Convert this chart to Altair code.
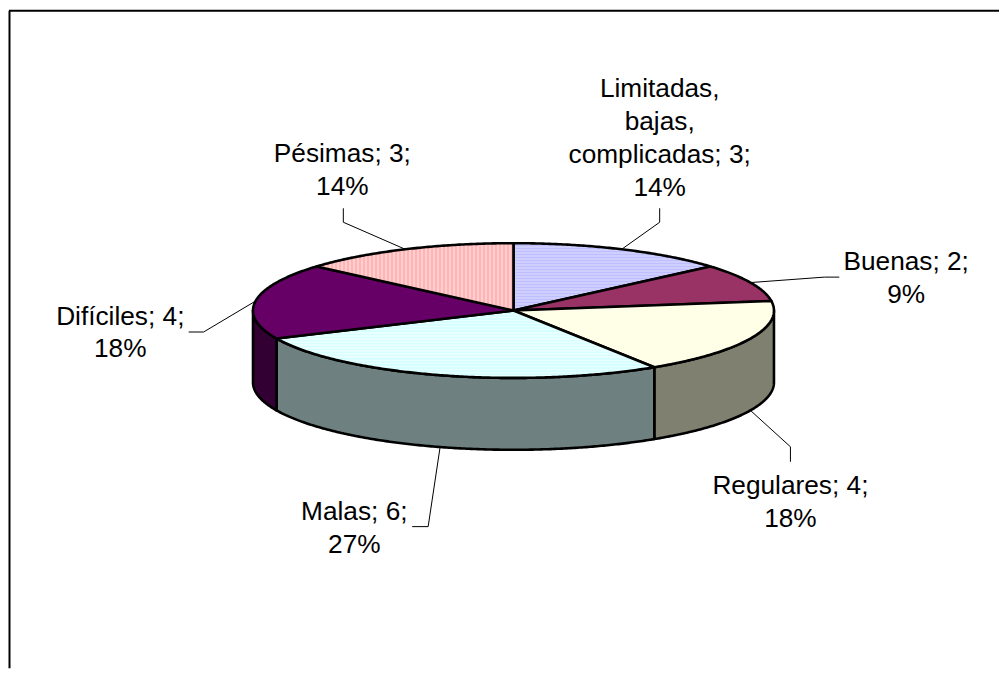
import math
import altair as alt

# ---- data ----
categories = ["Limitadas, bajas, complicadas", "Buenas", "Regulares", "Malas", "Difíciles", "Pésimas"]
values = [3, 2, 4, 6, 4, 3]
percents = ["14%", "9%", "18%", "27%", "18%", "14%"]
label_lines = [
    ["Limitadas,", "bajas,", "complicadas; 3;", "14%"],
    ["Buenas; 2;", "9%"],
    ["Regulares; 4;", "18%"],
    ["Malas; 6;", "27%"],
    ["Difíciles; 4;", "18%"],
    ["Pésimas; 3;", "14%"],
]

# ---- styling / layout ----
top_colors = ["#CCCCFF", "#993366", "#FFFFE8", "#E2FFFF", "#660066", "#FFC4C4"]
side_colors = ["#666680", "#4D1A33", "#808070", "#6E8080", "#330033", "#806262"]
# (colour a, colour b, direction, period in px) for the hatched faces
stripes = {0: ("#CFCFFF", "#BFBFFF", "y", 3), 3: ("#E8FFFF", "#D8FFFF", "y", 3), 5: ("#FFCFCF", "#FFB5B5", "x", 4)}
W, H = 992, 661
OX, OY = 8, 8                # page margin
CX, CY = 513.5 - OX, 310.5 - OY
RX, RY = 261.0, 67.5
DEPTH = 72.0
label_anchor = [(660, 96.5), (907, 269.5), (791, 494), (354, 520.5), (119.5, 324.5), (342, 162)]
elbows = [
    [(660, 222), (660, 208)],
    [(825, 277), (840, 277)],
    [(791, 447), (791, 462)],
    [(428, 527), (412, 527)],
    [(203, 332), (188, 332)],
    [(343, 222), (343, 208)],
]
FONT = "Liberation Sans"
FS = 26.3
LH = 33
EDGE = 2.6

total = sum(values)


def pt(deg, dy=0.0):
    a = math.radians(deg)
    return [CX + RX * math.sin(a), CY - RY * math.cos(a) + dy]


def feature(ring):
    ring = ring + [ring[0]]
    return {"type": "Feature", "properties": {},
            "geometry": {"type": "Polygon", "coordinates": [ring]}}


def arc(a0, a1, dy=0.0):
    n = max(2, int(abs(a1 - a0)) * 2)
    return [pt(a0 + (a1 - a0) * i / n, dy) for i in range(n + 1)]


def striped(ring, spec):
    c1, c2, axis, period = spec
    idx = 0 if axis == "x" else 1
    lo = min(p[idx] for p in ring)
    hi = max(p[idx] for p in ring)
    n = int((hi - lo) / period * 2)
    st = []
    for i in range(n):
        col = c1 if i % 2 == 0 else c2
        st.append(alt.GradientStop(offset=i / n, color=col))
        st.append(alt.GradientStop(offset=(i + 1) / n, color=col))
    if axis == "x":
        return alt.LinearGradient(gradient="linear", stops=st, x1=0, x2=1, y1=0, y2=0)
    return alt.LinearGradient(gradient="linear", stops=st, x1=0, x2=0, y1=0, y2=1)


PROJ = dict(type="identity", scale=1, translate=[0, 0])
xs = alt.Scale(domain=[0, W], range=[0, W])
ys = alt.Scale(domain=[0, H], range=[0, H])

bounds = []
acc = 0
for v in values:
    bounds.append((acc / total * 360, (acc + v) / total * 360))
    acc += v

layers = []

# leader lines (under the pie so they meet its edge cleanly)
leader_rows = []
for i, ((a0, a1), el) in enumerate(zip(bounds, elbows)):
    mid = (a0 + a1) / 2
    front = 90 < mid < 270
    start = pt(mid, DEPTH if front else 0)
    leader_rows.append({"id": i, "o": 0, "x": start[0], "y": start[1]})
    for j, (px, py) in enumerate(el):
        leader_rows.append({"id": i, "o": j + 1, "x": px - OX, "y": py - OY})

layers.append(alt.Chart(alt.Data(values=leader_rows)).mark_line(
    color="black", strokeWidth=1, interpolate="linear").encode(
    x=alt.X("x:Q", scale=xs, axis=None),
    y=alt.Y("y:Q", scale=ys, axis=None),
    detail="id:N", order="o:Q"))

# side walls, visible only on the front half
for (a0, a1), col in zip(bounds, side_colors):
    s, e = max(a0, 90), min(a1, 270)
    if e <= s:
        continue
    ring = arc(s, e) + arc(e, s, DEPTH)
    layers.append(alt.Chart(alt.Data(values=[feature(ring)])).mark_geoshape(
        fill=col, stroke="black", strokeWidth=EDGE, strokeJoin="round").project(**PROJ))

# top faces
for i, ((a0, a1), col) in enumerate(zip(bounds, top_colors)):
    ring = [[CX, CY]] + arc(a0, a1)
    fill = striped(ring, stripes[i]) if i in stripes else col
    layers.append(alt.Chart(alt.Data(values=[feature(ring)])).mark_geoshape(
        fill=fill, stroke="black", strokeWidth=EDGE, strokeJoin="round").project(**PROJ))

# labels
text_rows = []
for lines, (ax, ay) in zip(label_lines, label_anchor):
    for k, t in enumerate(lines):
        text_rows.append({"t": t, "x": ax - OX, "y": ay - OY + k * LH})
layers.append(alt.Chart(alt.Data(values=text_rows)).mark_text(
    font=FONT, fontSize=FS, align="center", baseline="alphabetic", color="black").encode(
    x=alt.X("x:Q", scale=xs, axis=None),
    y=alt.Y("y:Q", scale=ys, axis=None),
    text="t:N"))

# open frame: top and left edges
frame_rows = [{"x": 0.5, "x2": 0.5, "y": 2, "y2": H}, {"x": 0, "x2": W, "y": 2, "y2": 2}]
layers.append(alt.Chart(alt.Data(values=frame_rows)).mark_rule(color="black", strokeWidth=2).encode(
    x=alt.X("x:Q", scale=xs, axis=None), x2="x2:Q",
    y=alt.Y("y:Q", scale=ys, axis=None), y2="y2:Q"))

chart = alt.layer(*layers).properties(width=W, height=H, padding=0, background="white").configure_view(stroke=None)
chart.save("out.html", embed_options={"renderer": "svg", "actions": False})
